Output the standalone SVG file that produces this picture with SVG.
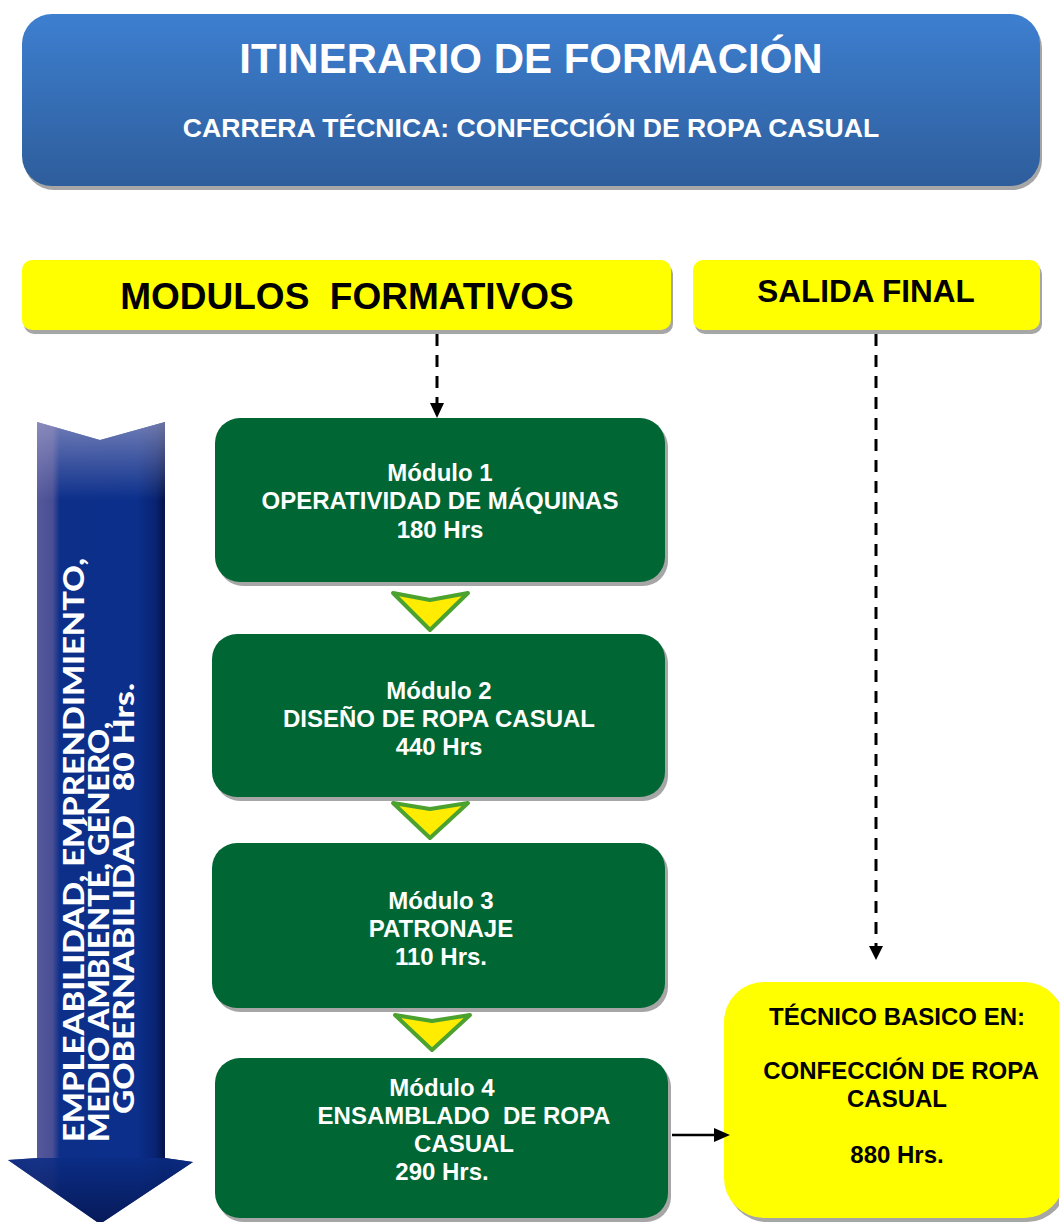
<svg xmlns="http://www.w3.org/2000/svg" width="1059" height="1222" viewBox="0 0 1059 1222">
<defs>
<linearGradient id="hdr" x1="0" y1="0" x2="0" y2="1">
<stop offset="0" stop-color="#3d7fd0"/>
<stop offset="1" stop-color="#2e5d9b"/>
</linearGradient>
<linearGradient id="blu" gradientUnits="userSpaceOnUse" x1="8" y1="0" x2="193" y2="0">
<stop offset="0" stop-color="#3a3f8c"/>
<stop offset="0.15" stop-color="#555a9c"/>
<stop offset="0.24" stop-color="#4a4f95"/>
<stop offset="0.28" stop-color="#0d2f8a"/>
<stop offset="0.7" stop-color="#0b2f8b"/>
<stop offset="0.8" stop-color="#082370"/>
<stop offset="0.84" stop-color="#05154f"/>
<stop offset="1" stop-color="#0a2575"/>
</linearGradient>
<linearGradient id="sheen" gradientUnits="userSpaceOnUse" x1="0" y1="420" x2="0" y2="500">
<stop offset="0" stop-color="#a9a9d0" stop-opacity="0.65"/>
<stop offset="1" stop-color="#a9a9d0" stop-opacity="0"/>
</linearGradient>
<linearGradient id="headshade" gradientUnits="userSpaceOnUse" x1="0" y1="1150" x2="0" y2="1224">
<stop offset="0" stop-color="#0b2f8b"/>
<stop offset="1" stop-color="#06164f"/>
</linearGradient>
<style>
.sh{fill:#a6a6a6}
.grn{fill:#006633}
.yel{fill:#ffff00}
.wt{font-family:"Liberation Sans",Arial,sans-serif;font-weight:bold;font-size:24px;fill:#ffffff;text-anchor:middle}
.bk{font-family:"Liberation Sans",Arial,sans-serif;font-weight:bold;font-size:24px;fill:#000000;text-anchor:middle}
.dash{stroke:#000;stroke-width:3;stroke-dasharray:12 9;fill:none}
.chev{fill:#ffec00;stroke:#4ca22e;stroke-width:4;stroke-linejoin:round}
.vt{font-family:"Lato","Open Sans",sans-serif;font-weight:900;font-size:27.5px;fill:#ffffff}
</style>
</defs>
<rect width="1059" height="1222" fill="#ffffff"/>

<g id="header">
<rect class="sh" x="24" y="18" width="1018" height="172" rx="30"/>
<rect x="22" y="14" width="1018" height="172" rx="30" fill="url(#hdr)"/>
<text x="531" y="73" font-family="Liberation Sans,Arial,sans-serif" font-weight="bold" font-size="42" fill="#fff" text-anchor="middle">ITINERARIO DE FORMACIÓN</text>
<text x="531" y="137" font-family="Liberation Sans,Arial,sans-serif" font-weight="bold" font-size="26.6" fill="#fff" text-anchor="middle">CARRERA TÉCNICA: CONFECCIÓN DE ROPA CASUAL</text>
</g>

<g id="modulos-formativos">
<rect class="sh" x="24" y="264" width="649" height="70" rx="10"/>
<rect class="yel" x="22" y="260" width="649" height="70" rx="10"/>
<text x="347" y="309" font-family="Liberation Sans,Arial,sans-serif" font-weight="bold" font-size="37" text-anchor="middle" xml:space="preserve">MODULOS  FORMATIVOS</text>
</g>

<g id="salida-final">
<rect class="sh" x="695" y="264" width="347" height="70" rx="10"/>
<rect class="yel" x="693" y="260" width="347" height="70" rx="10"/>
<text x="866" y="302" font-family="Liberation Sans,Arial,sans-serif" font-weight="bold" font-size="31.5" text-anchor="middle">SALIDA FINAL</text>
</g>

<g id="transversal">
<path d="M37,422 L100,440 L165,422 L165,1158 L193,1162 L100,1224 L8,1160 L37,1158 Z" fill="url(#blu)"/>
<path d="M8,1160 L37,1158 L165,1158 L193,1162 L100,1224 Z" fill="url(#headshade)" opacity="0.85"/>
<path d="M37,422 L100,440 L165,422 L165,500 L37,500 Z" fill="url(#sheen)"/>
<text class="vt" transform="translate(84,1142) rotate(-90)" textLength="584" lengthAdjust="spacingAndGlyphs">EMPLEABILIDAD, EMPRENDIMIENTO,</text>
<text class="vt" transform="translate(109,1142) rotate(-90)" textLength="420" lengthAdjust="spacingAndGlyphs">MEDIO AMBIENTE, GÉNERO,</text>
<text class="vt" transform="translate(134,1114) rotate(-90)" textLength="431" lengthAdjust="spacingAndGlyphs" xml:space="preserve">GOBERNABILIDAD   80 Hrs.</text>
</g>

<g id="modulo1">
<rect class="sh" x="218" y="422" width="450" height="164" rx="25"/>
<rect class="grn" x="215" y="418" width="450" height="164" rx="25"/>
<text class="wt" x="440" y="481">Módulo 1</text>
<text class="wt" x="440" y="509">OPERATIVIDAD DE MÁQUINAS</text>
<text class="wt" x="440" y="538">180 Hrs</text>
</g>

<g id="modulo2">
<rect class="sh" x="215" y="638" width="453" height="163" rx="25"/>
<rect class="grn" x="212" y="634" width="453" height="163" rx="25"/>
<text class="wt" x="439" y="699">Módulo 2</text>
<text class="wt" x="439" y="727">DISEÑO DE ROPA CASUAL</text>
<text class="wt" x="439" y="755">440 Hrs</text>
</g>

<g id="modulo3">
<rect class="sh" x="215" y="847" width="453" height="165" rx="25"/>
<rect class="grn" x="212" y="843" width="453" height="165" rx="25"/>
<text class="wt" x="441" y="909">Módulo 3</text>
<text class="wt" x="441" y="937">PATRONAJE</text>
<text class="wt" x="441" y="965">110 Hrs.</text>
</g>

<g id="modulo4">
<rect class="sh" x="218" y="1062" width="453" height="160" rx="25"/>
<rect class="grn" x="215" y="1058" width="453" height="160" rx="25"/>
<text class="wt" x="442" y="1096">Módulo 4</text>
<text class="wt" x="464" y="1124" xml:space="preserve">ENSAMBLADO  DE ROPA</text>
<text class="wt" x="464" y="1152">CASUAL</text>
<text class="wt" x="442" y="1180">290 Hrs.</text>
</g>

<g id="salida">
<rect class="sh" x="727" y="986" width="340" height="236" rx="40"/>
<rect class="yel" x="724" y="982" width="340" height="236" rx="40"/>
<text class="bk" x="897" y="1025">TÉCNICO BASICO EN:</text>
<text class="bk" x="901" y="1079">CONFECCIÓN DE ROPA</text>
<text class="bk" x="897" y="1107">CASUAL</text>
<text class="bk" x="897" y="1163">880 Hrs.</text>
</g>

<g id="connectors">
<line class="dash" x1="437" y1="334" x2="437" y2="404"/>
<polygon points="430,403 444,403 437,418" fill="#000"/>
<line class="dash" x1="876" y1="334" x2="876" y2="946"/>
<polygon points="869,946 883,946 876,960" fill="#000"/>
<polygon class="chev" points="393,593 430,600 468,593 430,630"/>
<polygon class="chev" points="393,803 430,809 468,803 430,838"/>
<polygon class="chev" points="395,1015 432,1021 470,1015 432,1050"/>
<line x1="672" y1="1135" x2="716" y2="1135" stroke="#000" stroke-width="2.5"/>
<polygon points="714,1128 730,1135 714,1142" fill="#000"/>
</g>
</svg>
